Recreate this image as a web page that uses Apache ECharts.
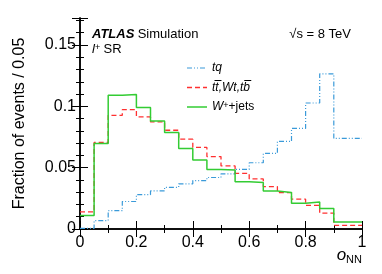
<!DOCTYPE html>
<html>
<head>
<meta charset="utf-8">
<script src="https://cdn.jsdelivr.net/npm/echarts@6/dist/echarts.min.js"></script>
<style>html,body{margin:0;padding:0;background:#fff}#c{width:382px;height:274px}</style>
</head>
<body>
<div id="c"></div>
<script>
var binEdges = [0, 0.05, 0.1, 0.15, 0.2, 0.25, 0.3, 0.35, 0.4, 0.45, 0.5, 0.55, 0.6, 0.65, 0.7, 0.75, 0.8, 0.85, 0.9, 0.95, 1.0];
var tq = [0.0005, 0.0068, 0.0149, 0.0224, 0.028, 0.031, 0.034, 0.0368, 0.0395, 0.042, 0.045, 0.0486, 0.054, 0.0616, 0.0714, 0.082, 0.1027, 0.1265, 0.0738, 0.0738];
var ttbar = [0.014, 0.0705, 0.0927, 0.0973, 0.0914, 0.0873, 0.0805, 0.0732, 0.0665, 0.059, 0.0514, 0.0454, 0.0408, 0.0346, 0.0297, 0.0243, 0.0192, 0.013, 0.003, 0.003];
var wjets = [0.011, 0.0697, 0.109, 0.1097, 0.099, 0.088, 0.0786, 0.0657, 0.0562, 0.0486, 0.048, 0.0386, 0.038, 0.031, 0.0297, 0.021, 0.022, 0.0168, 0.0057, 0.0057];
var xTicks = [0, 0.2, 0.4, 0.6, 0.8, 1];
var yTicks = [0, 0.05, 0.1, 0.15];
var seriesNames = ['tq', 'ttbar', 'wjets'];

function histData(vals) {
  var d = [];
  for (var i = 0; i < vals.length; i++) d.push([binEdges[i], vals[i]]);
  d.push([binEdges[vals.length], vals[vals.length - 1]]);
  return d;
}

var chart = echarts.init(document.getElementById('c'), null, {renderer: 'canvas'});
var font = 'Liberation Sans, Arial, Helvetica, sans-serif';
var colors = {tq: '#3a9ad9', ttbar: '#ff3030', wjets: '#33cc33'};
var dashes = {tq: [5, 2, 1, 2, 1, 2], ttbar: [5, 3], wjets: null};
var widths = {tq: 1.2, ttbar: 1.3, wjets: 1.5};

var axisCommon = {
  axisLine: {lineStyle: {color: '#000', width: 1.5}},
  axisTick: {inside: true, length: 8, lineStyle: {color: '#000', width: 1}},
  minorTick: {show: true, length: 4, lineStyle: {color: '#000', width: 1}},
  splitLine: {show: false}
};
function xAx(pos, showLabel) {
  return Object.assign({}, axisCommon, {
    type: 'value', position: pos, min: 0, max: 1, interval: 0.2,
    minorTick: Object.assign({}, axisCommon.minorTick, {splitNumber: 2}),
    axisLabel: {show: showLabel, color: '#000', fontSize: 16, fontFamily: font, margin: 6,
      formatter: function (v) { return xTicks.indexOf(Math.round(v * 10) / 10) >= 0 ? String(Math.round(v * 10) / 10) : ''; }}
  });
}
function yAx(pos, showLabel) {
  return Object.assign({}, axisCommon, {
    type: 'value', position: pos, min: 0, max: 0.172, interval: 0.05,
    minorTick: Object.assign({}, axisCommon.minorTick, {splitNumber: 5}),
    axisLabel: {show: showLabel, color: '#000', fontSize: 16, fontFamily: font, margin: 4, showMaxLabel: false,
      formatter: function (v) { var r = Math.round(v * 100) / 100; return yTicks.indexOf(r) >= 0 && Math.abs(v - r) < 1e-6 ? String(r) : ''; }}
  });
}
var xa = [xAx('bottom', true), xAx('top', false)];
var ya = [yAx('left', true), yAx('right', false)];
ya[0].name = 'Fraction of events / 0.05';
ya[0].nameLocation = 'middle';
ya[0].nameGap = 52;
ya[0].nameTextStyle = {color: '#000', fontSize: 16, fontFamily: font};

var legendRich = {
  it: {fontStyle: 'italic', fontSize: 12, fontFamily: font, fill: '#000'},
  n: {fontSize: 12, fontFamily: font, fill: '#000'},
  sup: {fontSize: 9, fontFamily: font, fill: '#000', verticalAlign: 'top'}
};
var legendLabels = {
  tq: '{it|tq}',
  ttbar: '{it|tt\u0305,Wt,tb\u0305}',
  wjets: '{it|W}{sup|+}{n|+jets}'
};

var legendGraphics = [];
seriesNames.forEach(function (n, i) {
  var y = 68 + i * 19.5;
  legendGraphics.push({type: 'line', shape: {x1: 187, y1: y, x2: 207, y2: y},
    style: {stroke: colors[n], lineWidth: widths[n], lineDash: dashes[n]}});
  legendGraphics.push({type: 'text', x: 212, y: y, style: {text: legendLabels[n], rich: legendRich, verticalAlign: 'middle'}});
});

function mkSeries(n, vals) {
  return {name: n, type: 'line', step: 'end', symbol: 'none', data: histData(vals),
    lineStyle: {color: colors[n], width: widths[n], type: dashes[n] || 'solid'}, itemStyle: {color: colors[n]}};
}

var option = {
  animation: false,
  backgroundColor: '#fff',
  grid: {left: 80, right: 20, top: 18, bottom: 45, containLabel: false},
  xAxis: xa,
  yAxis: ya,
  series: [mkSeries('tq', tq), mkSeries('ttbar', ttbar), mkSeries('wjets', wjets)],
  graphic: [
    {type: 'text', left: 92, top: 28, style: {text: '{b|ATLAS} {n|Simulation}', rich: {
      b: {fontWeight: 'bold', fontStyle: 'italic', fontSize: 13, fontFamily: font, fill: '#000'},
      n: {fontSize: 13, fontFamily: font, fill: '#000'}}}},
    {type: 'text', left: 92, top: 43, style: {text: '{it|l}{sup|+} {n|SR}', rich: {
      it: {fontStyle: 'italic', fontSize: 13, fontFamily: font, fill: '#000'},
      sup: {fontSize: 9, fontFamily: font, fill: '#000', verticalAlign: 'top'},
      n: {fontSize: 13, fontFamily: font, fill: '#000'}}}},
    {type: 'text', right: 31, top: 28, style: {text: '\u221As = 8 TeV', fontSize: 13, fontFamily: font, fill: '#000'}},
    {type: 'text', right: 20, top: 247, style: {text: '{it|o}{sub|NN}', rich: {
      it: {fontStyle: 'italic', fontSize: 17, fontFamily: font, fill: '#000'},
      sub: {fontSize: 11, fontFamily: font, fill: '#000', verticalAlign: 'bottom', padding: [8, 0, 0, 0]}}}}
  ].concat(legendGraphics)
};
chart.setOption(option);
</script>
</body>
</html>
